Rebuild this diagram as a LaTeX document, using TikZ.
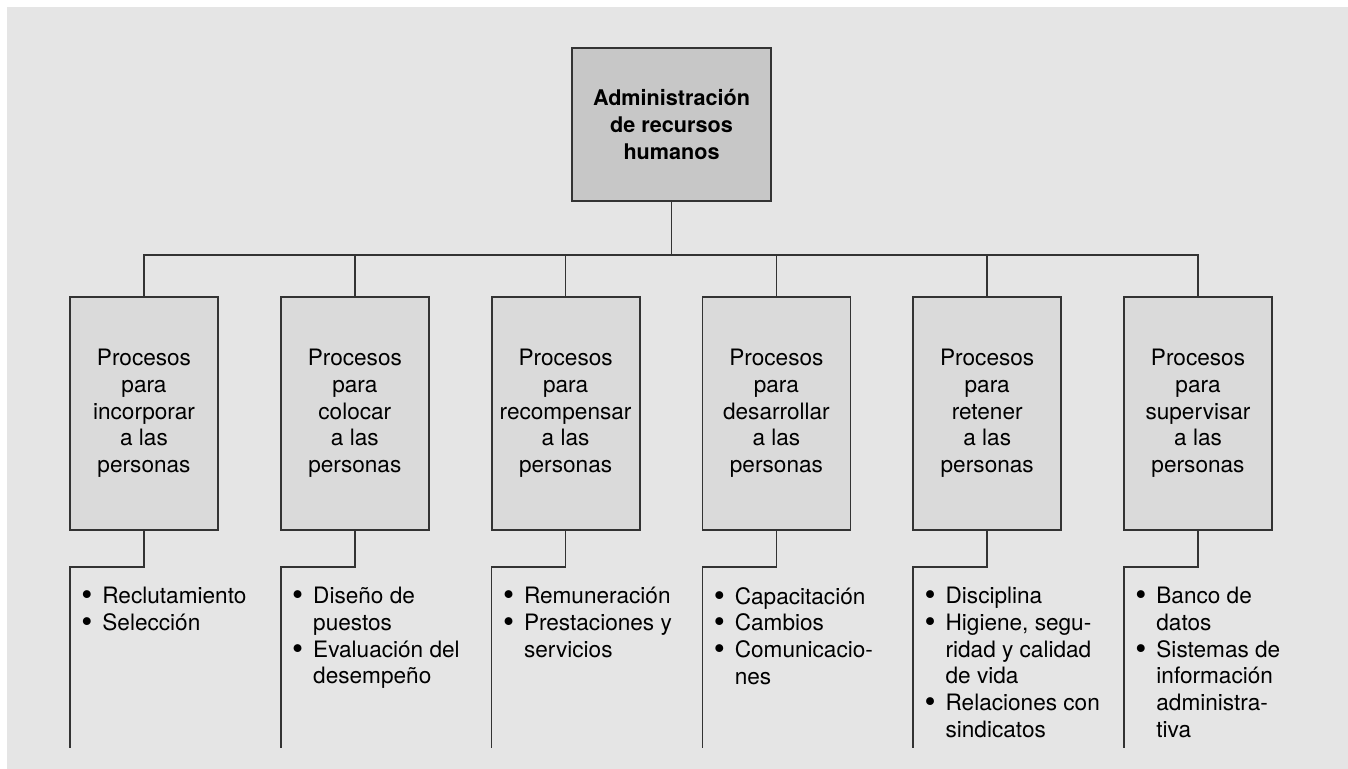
\documentclass[tikz,border=0pt]{standalone}
\usepackage{fontspec}
\setmainfont{TeX Gyre Heros}
\usetikzlibrary{
    positioning
}
\definecolor{bggray}{gray}{0.90}
\definecolor{topgray}{gray}{0.78}
\definecolor{boxgray}{gray}{0.855}
\definecolor{linegray}{gray}{0.2}
\newcommand{\bul}{\makebox[10.5pt][l]{\raisebox{-0.9pt}{\scalebox{1.4}{\textbullet}}}}
\newcommand{\ind}{\hspace*{10.5pt}}

\begin{document}
\begin{tikzpicture}[
    node distance=31.4pt,
    root/.style={rectangle, draw=linegray, line width=0.9pt, fill=topgray, minimum width=99.5pt, minimum height=76.5pt, outer sep=0pt, align=center, font=\fontsize{10.8}{13.35}\selectfont\bfseries},
    proc/.style={rectangle, draw=linegray, line width=0.9pt, fill=boxgray, minimum width=74pt, minimum height=116.5pt, outer sep=0pt, align=center, font=\fontsize{11.3}{13.35}\selectfont},
    lst/.style={align=left, inner sep=0pt, font=\fontsize{11.3}{13.35}\selectfont},
    link/.style={draw=linegray, line width=0.75pt}
]
% Frame
\useasboundingbox (0,0) rectangle (674pt,-384.5pt);
\fill[bggray] (3.5pt,-3.5pt) rectangle (674pt,-384.5pt);

% Root
\node[root] (arh) at (335.75pt,-62.25pt) {Administración\\de recursos\\humanos};

% Processes
\node[proc] (inc) at (72pt,-206.75pt) {Procesos\\para\\incorporar\\a las\\personas};
\node[proc, right=of inc] (col) {Procesos\\para\\colocar\\a las\\personas};
\node[proc, right=of col] (rec) {Procesos\\para\\recompensar\\a las\\personas};
\node[proc, right=of rec] (des) {Procesos\\para\\desarrollar\\a las\\personas};
\node[proc, right=of des] (ret) {Procesos\\para\\retener\\a las\\personas};
\node[proc, right=of ret] (sup) {Procesos\\para\\supervisar\\a las\\personas};

\draw[link] (arh.south) -- ++(0,-27pt) -| (inc.north);
\draw[link] (arh.south) -- ++(0,-27pt) -| (col.north);
\draw[link] (arh.south) -- ++(0,-27pt) -| (rec.north);
\draw[link] (arh.south) -- ++(0,-27pt) -| (des.north);
\draw[link] (arh.south) -- ++(0,-27pt) -| (ret.north);
\draw[link] (arh.south) -- ++(0,-27pt) -| (sup.north);

% Branches
\coordinate[below=18.5pt of inc.south west] (incE);
\coordinate[below=90.5pt of incE] (incF);
\coordinate[below=18.5pt of col.south west] (colE);
\coordinate[below=90.5pt of colE] (colF);
\coordinate[below=18.5pt of rec.south west] (recE);
\coordinate[below=90.5pt of recE] (recF);
\coordinate[below=18.5pt of des.south west] (desE);
\coordinate[below=90.5pt of desE] (desF);
\coordinate[below=18.5pt of ret.south west] (retE);
\coordinate[below=90.5pt of retE] (retF);
\coordinate[below=18.5pt of sup.south west] (supE);
\coordinate[below=90.5pt of supE] (supF);

\draw[link] (inc.south) |- (incE) -- (incF);
\draw[link] (col.south) |- (colE) -- (colF);
\draw[link] (rec.south) |- (recE) -- (recF);
\draw[link] (des.south) |- (desE) -- (desF);
\draw[link] (ret.south) |- (retE) -- (retF);
\draw[link] (sup.south) |- (supE) -- (supF);

% Lists
\node[lst, below right=10pt and 5.5pt of incE] (incL) {\bul Reclutamiento\\\bul Selección};
\node[lst, below right=10pt and 5.5pt of colE] (colL) {\bul Diseño de\\\ind puestos\\\bul Evaluación del\\\ind desempeño};
\node[lst, below right=10pt and 5.5pt of recE] (recL) {\bul Remuneración\\\bul Prestaciones y\\\ind servicios};
\node[lst, below right=10pt and 5.5pt of desE] (desL) {\bul Capacitación\\\bul Cambios\\\bul Comunicacio-\\\ind nes};
\node[lst, below right=10pt and 5.5pt of retE] (retL) {\bul Disciplina\\\bul Higiene, segu-\\\ind ridad y calidad\\\ind de vida\\\bul Relaciones con\\\ind sindicatos};
\node[lst, below right=10pt and 5.5pt of supE] (supL) {\bul Banco de\\\ind datos\\\bul Sistemas de\\\ind información\\\ind administra-\\\ind tiva};
\end{tikzpicture}
\end{document}
